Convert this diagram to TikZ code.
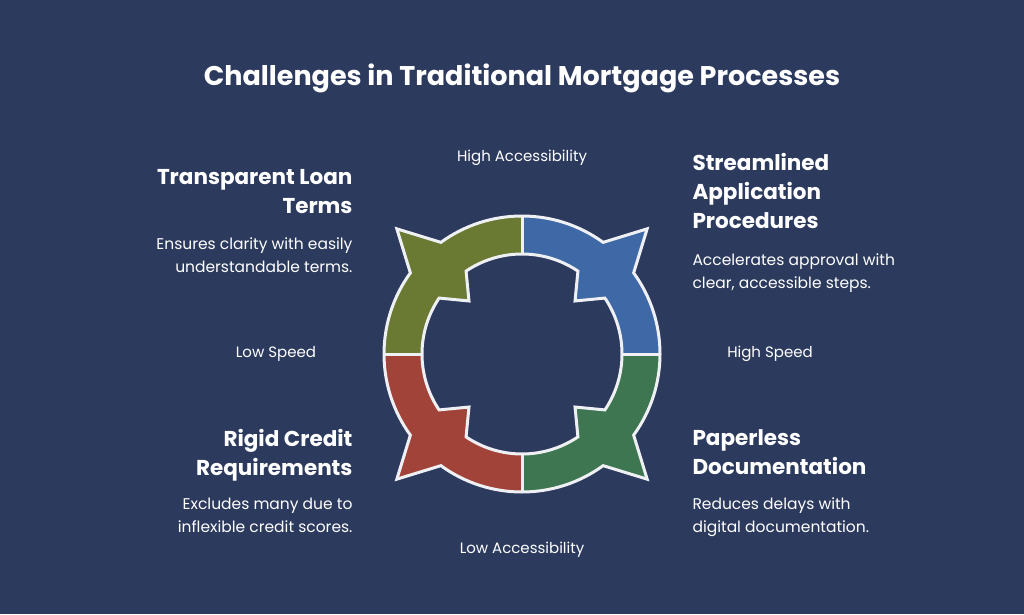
\documentclass[tikz,border=0pt]{standalone}
\usepackage{fontspec}
\setmainfont{Poppins}
\definecolor{bgblue}{HTML}{2C3A5E}
\definecolor{olivefill}{HTML}{6B7A33}
\definecolor{bluefill}{HTML}{3E69A6}
\definecolor{greenfill}{HTML}{3D7650}
\definecolor{redfill}{HTML}{A2433A}
\definecolor{ringline}{HTML}{EEF0F4}
\tikzset{
  title/.style={font=\fontsize{27}{31}\selectfont\bfseries, text=white},
  head/.style={font=\fontsize{21.5}{29}\selectfont\bfseries, text=white},
  desc/.style={font=\fontsize{15.5}{23}\selectfont, text=white},
  axis label/.style={font=\fontsize{15}{18}\selectfont, text=white}
}
\newcommand{\outerring}{(36:138) \foreach \a in {45,135,225,315}{ -- (\a-9:138) -- (\a:177) -- (\a+9:138) arc[start angle=\a+9, end angle=\a+81, radius=138]} -- cycle}
\newcommand{\innerring}{(34:100) \foreach \a in {45,135,225,315}{ -- (\a-11:100) -- (\a:75) -- (\a+11:100) arc[start angle=\a+11, end angle=\a+79, radius=100]} -- cycle}
\begin{document}
\begin{tikzpicture}[x=1pt,y=1pt]
  \fill[bgblue] (0,0) rectangle (1024,614);
  \useasboundingbox (0,0) rectangle (1024,614);

  % Title
  \node[title] (title) at (522,536) {Challenges in Traditional Mortgage Processes};

  % Ring
  \begin{scope}[shift={(522,260)}]
    \foreach \qx/\qy/\col in {-1/1/olivefill, 1/1/bluefill, 1/-1/greenfill, -1/-1/redfill}{
      \begin{scope}
        \clip (0,0) rectangle (\qx*250,\qy*250);
        \fill[\col, even odd rule] \outerring \innerring;
      \end{scope}
    }
    \draw[ringline, line width=3pt, line join=miter] \outerring;
    \draw[ringline, line width=3pt, line join=miter] \innerring;
    \foreach \d in {0,90,180,270}
      \draw[ringline, line width=3pt] (\d:100) -- (\d:138);
  \end{scope}

  % Axis labels
  \node[axis label] (hiacc) at (522,456) {High Accessibility};
  \node[axis label] (loacc) at (522,64) {Low Accessibility};
  \node[axis label] (lospeed) at (276,260) {Low Speed};
  \node[axis label] (hispeed) at (770,260) {High Speed};

  % Quadrant texts
  \node[head, anchor=north east, align=right] (terms) at (356,448) {Transparent Loan\\Terms};
  \node[desc, anchor=north east, align=right] (termsdesc) at (356,380) {Ensures clarity with easily\\understandable terms.};

  \node[head, anchor=north west, align=left] (apply) at (689,464) {Streamlined\\Application\\Procedures};
  \node[desc, anchor=north west, align=left] (applydesc) at (689,364) {Accelerates approval with\\clear, accessible steps.};

  \node[head, anchor=north east, align=right] (credit) at (356,188) {Rigid Credit\\Requirements};
  \node[desc, anchor=north east, align=right] (creditdesc) at (356,120) {Excludes many due to\\inflexible credit scores.};

  \node[head, anchor=north west, align=left] (paper) at (689,188) {Paperless\\Documentation};
  \node[desc, anchor=north west, align=left] (paperdesc) at (689,120) {Reduces delays with\\digital documentation.};
\end{tikzpicture}
\end{document}
